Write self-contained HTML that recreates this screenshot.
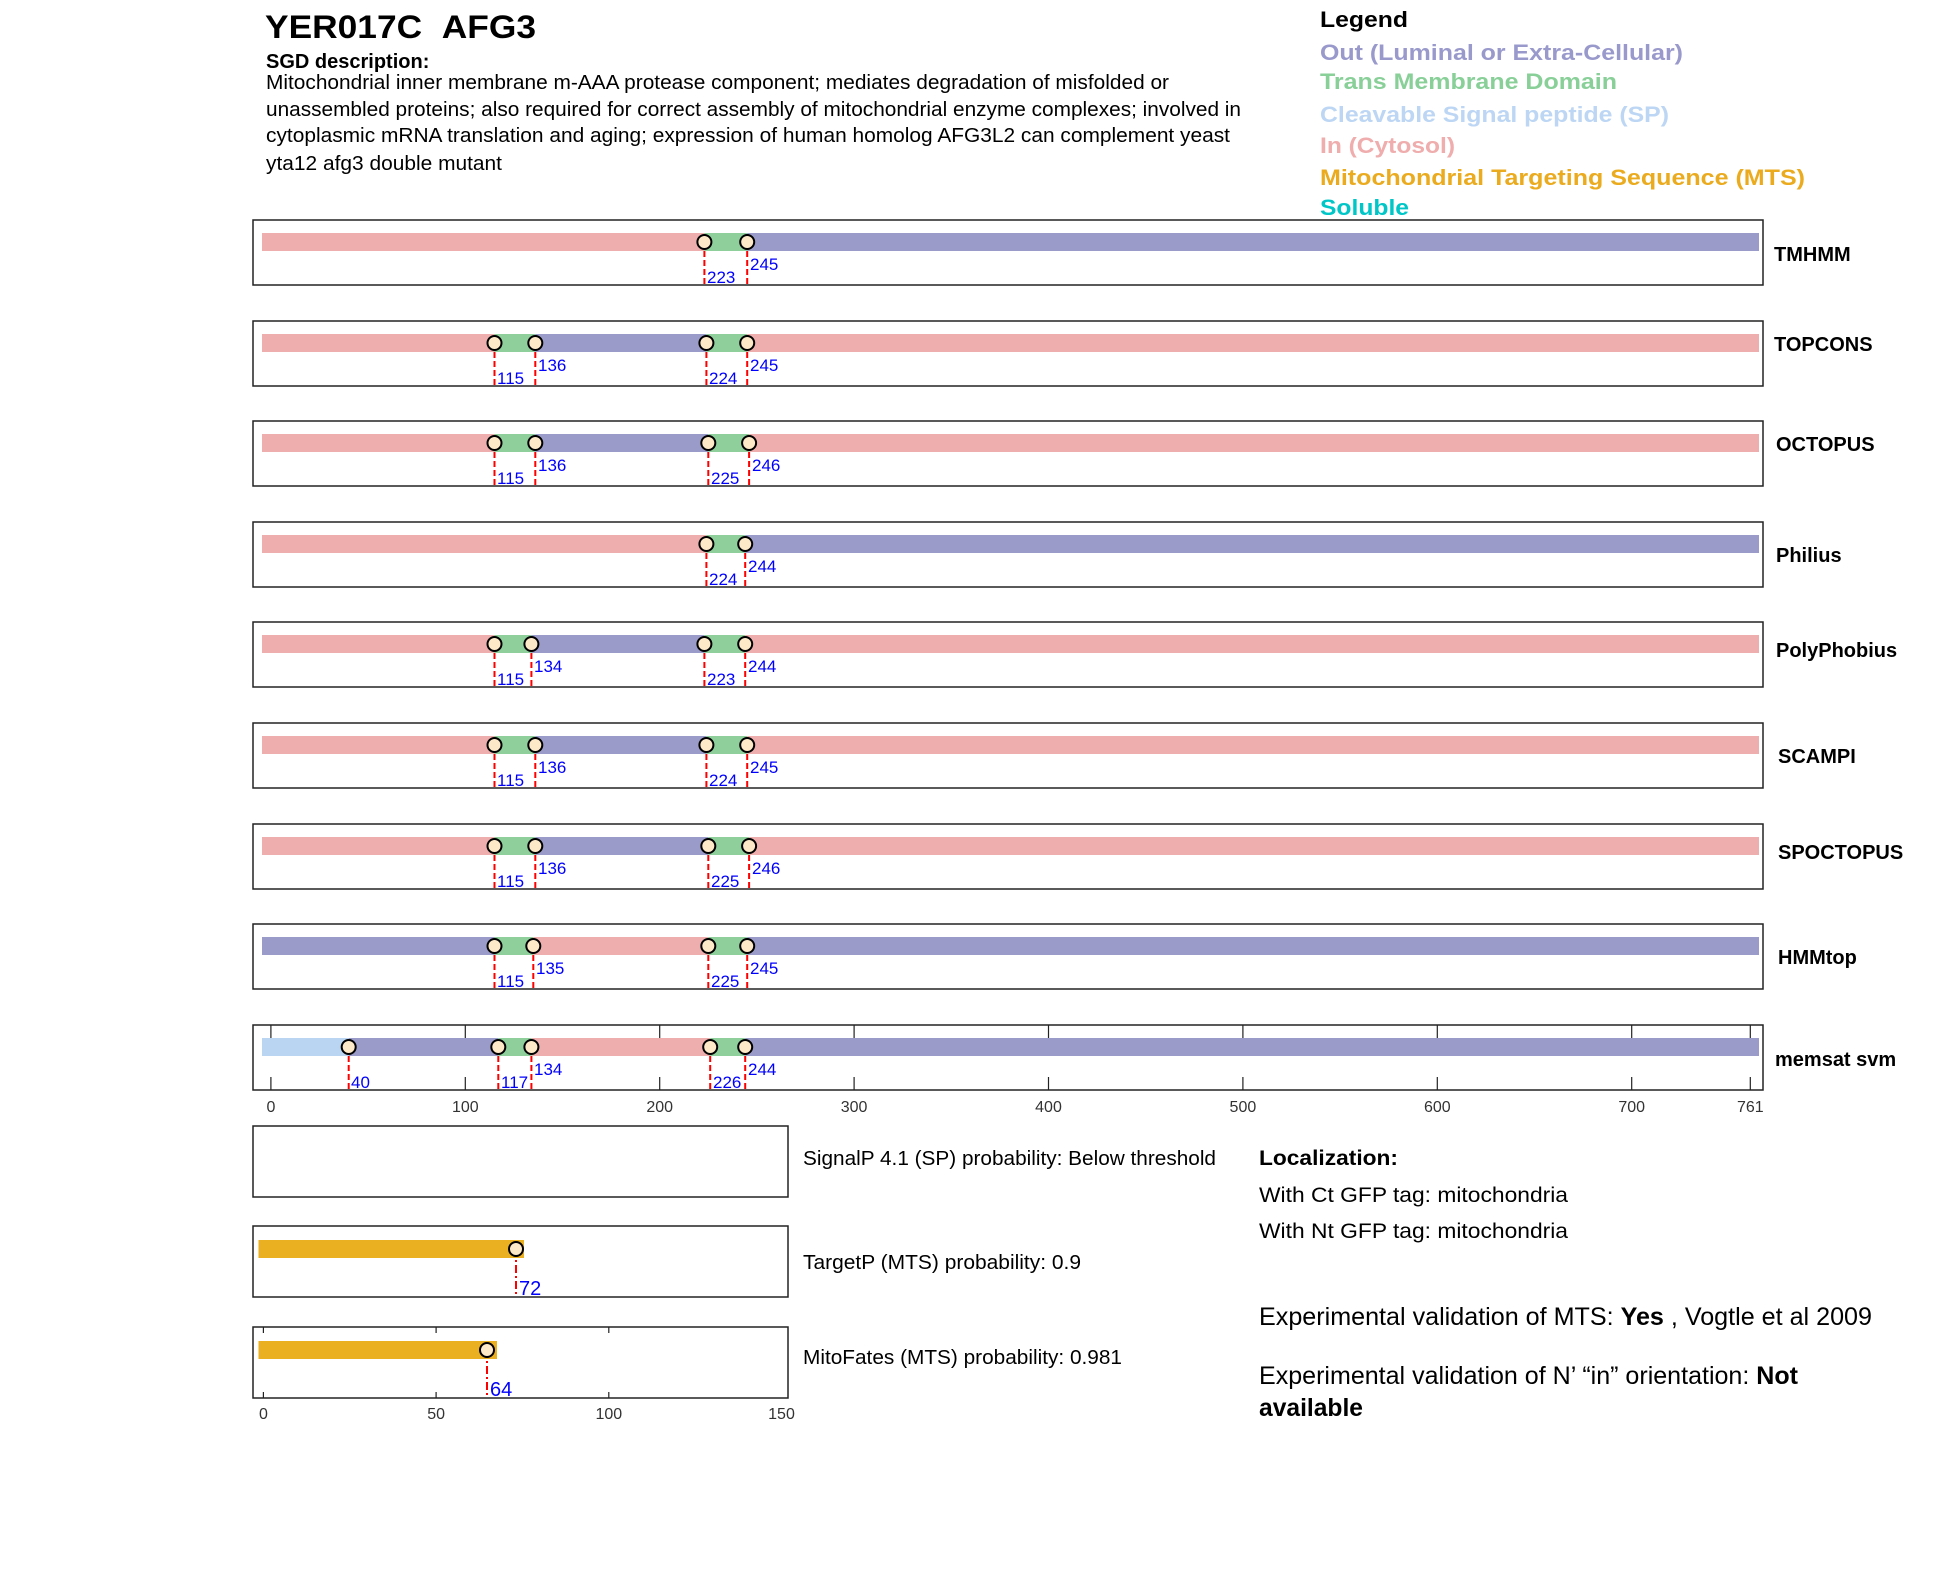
<!DOCTYPE html>
<html><head><meta charset="utf-8"><style>
html,body{margin:0;padding:0;background:#fff;}
svg{display:block;font-family:"Liberation Sans",Arial,sans-serif;}
.lab{fill:#0000ff;font-size:17px;}
.rl{font-size:20px;font-weight:bold;fill:#000;}
.tk{font-size:16px;fill:#333;}
</style></head><body>
<svg width="1950" height="1573" viewBox="0 0 1950 1573" xmlns="http://www.w3.org/2000/svg">
<defs>
<g id="dot"><circle r="7" fill="#fde8c8" stroke="#000" stroke-width="2"/></g>
</defs>
<text x="265" y="38" font-size="32" font-weight="bold" textLength="271" lengthAdjust="spacingAndGlyphs">YER017C&#160;&#160;AFG3</text>
<text x="266" y="68" font-size="20" font-weight="bold">SGD description:</text>
<text x="266" y="89" font-size="20" textLength="903" lengthAdjust="spacingAndGlyphs">Mitochondrial inner membrane m-AAA protease component; mediates degradation of misfolded or</text>
<text x="266" y="116" font-size="20" textLength="975" lengthAdjust="spacingAndGlyphs">unassembled proteins; also required for correct assembly of mitochondrial enzyme complexes; involved in</text>
<text x="266" y="142" font-size="20" textLength="964" lengthAdjust="spacingAndGlyphs">cytoplasmic mRNA translation and aging; expression of human homolog AFG3L2 can complement yeast</text>
<text x="266" y="170" font-size="20" textLength="236" lengthAdjust="spacingAndGlyphs">yta12 afg3 double mutant</text>

<g font-size="22" font-weight="bold">
<text x="1320" y="27" fill="#000" textLength="88" lengthAdjust="spacingAndGlyphs">Legend</text>
<text x="1320" y="60" fill="#9999cc" textLength="363" lengthAdjust="spacingAndGlyphs">Out (Luminal or Extra-Cellular)</text>
<text x="1320" y="89" fill="#88cf98" textLength="297" lengthAdjust="spacingAndGlyphs">Trans Membrane Domain</text>
<text x="1320" y="122" fill="#bcd6f4" textLength="349" lengthAdjust="spacingAndGlyphs">Cleavable Signal peptide (SP)</text>
<text x="1320" y="153" fill="#efadad" textLength="135" lengthAdjust="spacingAndGlyphs">In (Cytosol)</text>
<text x="1320" y="185" fill="#ebab1f" textLength="485" lengthAdjust="spacingAndGlyphs">Mitochondrial Targeting Sequence (MTS)</text>
<text x="1320" y="215" fill="#00c6c8" textLength="89" lengthAdjust="spacingAndGlyphs">Soluble</text>
</g>

<!-- TMHMM -->
<g transform="translate(0,220)">
<rect x="253" y="0" width="1510" height="65" fill="#fff" stroke="#222" stroke-width="1.5"/>
<rect x="262" y="13" width="442.4" height="18" fill="#eeaeae"/>
<rect x="704.4" y="13" width="42.8" height="18" fill="#8ecf9c"/>
<rect x="747.2" y="13" width="1011.8" height="18" fill="#9a9bc9"/>
<g stroke="red" stroke-width="2" stroke-dasharray="6,3"><line x1="704.4" y1="22" x2="704.4" y2="65"/><line x1="747.2" y1="22" x2="747.2" y2="65"/></g>
<use href="#dot" x="704.4" y="22"/><use href="#dot" x="747.2" y="22"/>
<text class="lab" x="707" y="63">223</text><text class="lab" x="750" y="50">245</text>
<text class="rl" x="1774" y="41">TMHMM</text>
</g>

<!-- TOPCONS -->
<g transform="translate(0,321)">
<rect x="253" y="0" width="1510" height="65" fill="#fff" stroke="#222" stroke-width="1.5"/>
<rect x="262" y="13" width="232.5" height="18" fill="#eeaeae"/>
<rect x="494.5" y="13" width="40.8" height="18" fill="#8ecf9c"/>
<rect x="535.3" y="13" width="171.1" height="18" fill="#9a9bc9"/>
<rect x="706.4" y="13" width="40.8" height="18" fill="#8ecf9c"/>
<rect x="747.2" y="13" width="1011.8" height="18" fill="#eeaeae"/>
<g stroke="red" stroke-width="2" stroke-dasharray="6,3"><line x1="494.5" y1="22" x2="494.5" y2="65"/><line x1="535.3" y1="22" x2="535.3" y2="65"/><line x1="706.4" y1="22" x2="706.4" y2="65"/><line x1="747.2" y1="22" x2="747.2" y2="65"/></g>
<use href="#dot" x="494.5" y="22"/><use href="#dot" x="535.3" y="22"/><use href="#dot" x="706.4" y="22"/><use href="#dot" x="747.2" y="22"/>
<text class="lab" x="497" y="63">115</text><text class="lab" x="538" y="50">136</text><text class="lab" x="709" y="63">224</text><text class="lab" x="750" y="50">245</text>
<text class="rl" x="1774" y="30">TOPCONS</text>
</g>

<!-- OCTOPUS -->
<g transform="translate(0,421)">
<rect x="253" y="0" width="1510" height="65" fill="#fff" stroke="#222" stroke-width="1.5"/>
<rect x="262" y="13" width="232.5" height="18" fill="#eeaeae"/>
<rect x="494.5" y="13" width="40.8" height="18" fill="#8ecf9c"/>
<rect x="535.3" y="13" width="173" height="18" fill="#9a9bc9"/>
<rect x="708.3" y="13" width="40.8" height="18" fill="#8ecf9c"/>
<rect x="749.1" y="13" width="1009.9" height="18" fill="#eeaeae"/>
<g stroke="red" stroke-width="2" stroke-dasharray="6,3"><line x1="494.5" y1="22" x2="494.5" y2="65"/><line x1="535.3" y1="22" x2="535.3" y2="65"/><line x1="708.3" y1="22" x2="708.3" y2="65"/><line x1="749.1" y1="22" x2="749.1" y2="65"/></g>
<use href="#dot" x="494.5" y="22"/><use href="#dot" x="535.3" y="22"/><use href="#dot" x="708.3" y="22"/><use href="#dot" x="749.1" y="22"/>
<text class="lab" x="497" y="63">115</text><text class="lab" x="538" y="50">136</text><text class="lab" x="711" y="63">225</text><text class="lab" x="752" y="50">246</text>
<text class="rl" x="1776" y="30">OCTOPUS</text>
</g>

<!-- Philius -->
<g transform="translate(0,522)">
<rect x="253" y="0" width="1510" height="65" fill="#fff" stroke="#222" stroke-width="1.5"/>
<rect x="262" y="13" width="444.4" height="18" fill="#eeaeae"/>
<rect x="706.4" y="13" width="38.8" height="18" fill="#8ecf9c"/>
<rect x="745.2" y="13" width="1013.8" height="18" fill="#9a9bc9"/>
<g stroke="red" stroke-width="2" stroke-dasharray="6,3"><line x1="706.4" y1="22" x2="706.4" y2="65"/><line x1="745.2" y1="22" x2="745.2" y2="65"/></g>
<use href="#dot" x="706.4" y="22"/><use href="#dot" x="745.2" y="22"/>
<text class="lab" x="709" y="63">224</text><text class="lab" x="748" y="50">244</text>
<text class="rl" x="1776" y="40">Philius</text>
</g>

<!-- PolyPhobius -->
<g transform="translate(0,622)">
<rect x="253" y="0" width="1510" height="65" fill="#fff" stroke="#222" stroke-width="1.5"/>
<rect x="262" y="13" width="232.5" height="18" fill="#eeaeae"/>
<rect x="494.5" y="13" width="36.9" height="18" fill="#8ecf9c"/>
<rect x="531.4" y="13" width="173" height="18" fill="#9a9bc9"/>
<rect x="704.4" y="13" width="40.8" height="18" fill="#8ecf9c"/>
<rect x="745.2" y="13" width="1013.8" height="18" fill="#eeaeae"/>
<g stroke="red" stroke-width="2" stroke-dasharray="6,3"><line x1="494.5" y1="22" x2="494.5" y2="65"/><line x1="531.4" y1="22" x2="531.4" y2="65"/><line x1="704.4" y1="22" x2="704.4" y2="65"/><line x1="745.2" y1="22" x2="745.2" y2="65"/></g>
<use href="#dot" x="494.5" y="22"/><use href="#dot" x="531.4" y="22"/><use href="#dot" x="704.4" y="22"/><use href="#dot" x="745.2" y="22"/>
<text class="lab" x="497" y="63">115</text><text class="lab" x="534" y="50">134</text><text class="lab" x="707" y="63">223</text><text class="lab" x="748" y="50">244</text>
<text class="rl" x="1776" y="35">PolyPhobius</text>
</g>

<!-- SCAMPI -->
<g transform="translate(0,723)">
<rect x="253" y="0" width="1510" height="65" fill="#fff" stroke="#222" stroke-width="1.5"/>
<rect x="262" y="13" width="232.5" height="18" fill="#eeaeae"/>
<rect x="494.5" y="13" width="40.8" height="18" fill="#8ecf9c"/>
<rect x="535.3" y="13" width="171.1" height="18" fill="#9a9bc9"/>
<rect x="706.4" y="13" width="40.8" height="18" fill="#8ecf9c"/>
<rect x="747.2" y="13" width="1011.8" height="18" fill="#eeaeae"/>
<g stroke="red" stroke-width="2" stroke-dasharray="6,3"><line x1="494.5" y1="22" x2="494.5" y2="65"/><line x1="535.3" y1="22" x2="535.3" y2="65"/><line x1="706.4" y1="22" x2="706.4" y2="65"/><line x1="747.2" y1="22" x2="747.2" y2="65"/></g>
<use href="#dot" x="494.5" y="22"/><use href="#dot" x="535.3" y="22"/><use href="#dot" x="706.4" y="22"/><use href="#dot" x="747.2" y="22"/>
<text class="lab" x="497" y="63">115</text><text class="lab" x="538" y="50">136</text><text class="lab" x="709" y="63">224</text><text class="lab" x="750" y="50">245</text>
<text class="rl" x="1778" y="40">SCAMPI</text>
</g>

<!-- SPOCTOPUS -->
<g transform="translate(0,824)">
<rect x="253" y="0" width="1510" height="65" fill="#fff" stroke="#222" stroke-width="1.5"/>
<rect x="262" y="13" width="232.5" height="18" fill="#eeaeae"/>
<rect x="494.5" y="13" width="40.8" height="18" fill="#8ecf9c"/>
<rect x="535.3" y="13" width="173" height="18" fill="#9a9bc9"/>
<rect x="708.3" y="13" width="40.8" height="18" fill="#8ecf9c"/>
<rect x="749.1" y="13" width="1009.9" height="18" fill="#eeaeae"/>
<g stroke="red" stroke-width="2" stroke-dasharray="6,3"><line x1="494.5" y1="22" x2="494.5" y2="65"/><line x1="535.3" y1="22" x2="535.3" y2="65"/><line x1="708.3" y1="22" x2="708.3" y2="65"/><line x1="749.1" y1="22" x2="749.1" y2="65"/></g>
<use href="#dot" x="494.5" y="22"/><use href="#dot" x="535.3" y="22"/><use href="#dot" x="708.3" y="22"/><use href="#dot" x="749.1" y="22"/>
<text class="lab" x="497" y="63">115</text><text class="lab" x="538" y="50">136</text><text class="lab" x="711" y="63">225</text><text class="lab" x="752" y="50">246</text>
<text class="rl" x="1778" y="35">SPOCTOPUS</text>
</g>

<!-- HMMtop -->
<g transform="translate(0,924)">
<rect x="253" y="0" width="1510" height="65" fill="#fff" stroke="#222" stroke-width="1.5"/>
<rect x="262" y="13" width="232.5" height="18" fill="#9a9bc9"/>
<rect x="494.5" y="13" width="38.8" height="18" fill="#8ecf9c"/>
<rect x="533.3" y="13" width="175" height="18" fill="#eeaeae"/>
<rect x="708.3" y="13" width="38.9" height="18" fill="#8ecf9c"/>
<rect x="747.2" y="13" width="1011.8" height="18" fill="#9a9bc9"/>
<g stroke="red" stroke-width="2" stroke-dasharray="6,3"><line x1="494.5" y1="22" x2="494.5" y2="65"/><line x1="533.3" y1="22" x2="533.3" y2="65"/><line x1="708.3" y1="22" x2="708.3" y2="65"/><line x1="747.2" y1="22" x2="747.2" y2="65"/></g>
<use href="#dot" x="494.5" y="22"/><use href="#dot" x="533.3" y="22"/><use href="#dot" x="708.3" y="22"/><use href="#dot" x="747.2" y="22"/>
<text class="lab" x="497" y="63">115</text><text class="lab" x="536" y="50">135</text><text class="lab" x="711" y="63">225</text><text class="lab" x="750" y="50">245</text>
<text class="rl" x="1778" y="40">HMMtop</text>
</g>

<!-- memsat svm -->
<g transform="translate(0,1025)">
<rect x="253" y="0" width="1510" height="65" fill="#fff" stroke="#222" stroke-width="1.5"/>
<g stroke="#222" stroke-width="1.2">
<line x1="270.9" y1="0" x2="270.9" y2="13"/><line x1="270.9" y1="52" x2="270.9" y2="65"/>
<line x1="465.3" y1="0" x2="465.3" y2="13"/><line x1="465.3" y1="52" x2="465.3" y2="65"/>
<line x1="659.7" y1="0" x2="659.7" y2="13"/><line x1="659.7" y1="52" x2="659.7" y2="65"/>
<line x1="854.1" y1="0" x2="854.1" y2="13"/><line x1="854.1" y1="52" x2="854.1" y2="65"/>
<line x1="1048.5" y1="0" x2="1048.5" y2="13"/><line x1="1048.5" y1="52" x2="1048.5" y2="65"/>
<line x1="1242.9" y1="0" x2="1242.9" y2="13"/><line x1="1242.9" y1="52" x2="1242.9" y2="65"/>
<line x1="1437.3" y1="0" x2="1437.3" y2="13"/><line x1="1437.3" y1="52" x2="1437.3" y2="65"/>
<line x1="1631.7" y1="0" x2="1631.7" y2="13"/><line x1="1631.7" y1="52" x2="1631.7" y2="65"/>
<line x1="1750.3" y1="0" x2="1750.3" y2="13"/><line x1="1750.3" y1="52" x2="1750.3" y2="65"/>
</g>
<rect x="262" y="13" width="86.7" height="18" fill="#b9d5f2"/>
<rect x="348.7" y="13" width="149.6" height="18" fill="#9a9bc9"/>
<rect x="498.3" y="13" width="33.1" height="18" fill="#8ecf9c"/>
<rect x="531.4" y="13" width="178.8" height="18" fill="#eeaeae"/>
<rect x="710.2" y="13" width="35" height="18" fill="#8ecf9c"/>
<rect x="745.2" y="13" width="1013.8" height="18" fill="#9a9bc9"/>
<g stroke="red" stroke-width="2" stroke-dasharray="6,3"><line x1="348.7" y1="22" x2="348.7" y2="65"/><line x1="498.3" y1="22" x2="498.3" y2="65"/><line x1="531.4" y1="22" x2="531.4" y2="65"/><line x1="710.2" y1="22" x2="710.2" y2="65"/><line x1="745.2" y1="22" x2="745.2" y2="65"/></g>
<use href="#dot" x="348.7" y="22"/><use href="#dot" x="498.3" y="22"/><use href="#dot" x="531.4" y="22"/><use href="#dot" x="710.2" y="22"/><use href="#dot" x="745.2" y="22"/>
<text class="lab" x="351" y="63">40</text><text class="lab" x="501" y="63">117</text><text class="lab" x="534" y="50">134</text><text class="lab" x="713" y="63">226</text><text class="lab" x="748" y="50">244</text>
<text class="rl" x="1775" y="41">memsat svm</text>
</g>
<g class="tk" text-anchor="middle">
<text x="270.9" y="1112">0</text><text x="465.3" y="1112">100</text><text x="659.7" y="1112">200</text><text x="854.1" y="1112">300</text><text x="1048.5" y="1112">400</text><text x="1242.9" y="1112">500</text><text x="1437.3" y="1112">600</text><text x="1631.7" y="1112">700</text><text x="1750.3" y="1112">761</text>
</g>

<!-- SignalP -->
<rect x="253" y="1126" width="535" height="71" fill="#fff" stroke="#222" stroke-width="1.5"/>
<text x="803" y="1165" font-size="20" textLength="413" lengthAdjust="spacingAndGlyphs">SignalP 4.1 (SP) probability: Below threshold</text>

<!-- TargetP -->
<g transform="translate(0,1226)">
<rect x="253" y="0" width="535" height="71" fill="#fff" stroke="#222" stroke-width="1.5"/>
<rect x="258.5" y="14" width="265.5" height="18" fill="#ebaf22"/>
<line x1="516" y1="23" x2="516" y2="71" stroke="red" stroke-width="2" stroke-dasharray="8,3,2,3"/>
<use href="#dot" x="516" y="23"/>
<text x="519" y="69" font-size="20" fill="#0000ff">72</text>
</g>
<text x="803" y="1269" font-size="20" textLength="278" lengthAdjust="spacingAndGlyphs">TargetP (MTS) probability: 0.9</text>

<!-- MitoFates -->
<g transform="translate(0,1327)">
<rect x="253" y="0" width="535" height="71" fill="#fff" stroke="#222" stroke-width="1.5"/>
<g stroke="#222" stroke-width="1.2">
<line x1="263.4" y1="0" x2="263.4" y2="6"/><line x1="263.4" y1="65" x2="263.4" y2="71"/>
<line x1="436.1" y1="0" x2="436.1" y2="6"/><line x1="436.1" y1="65" x2="436.1" y2="71"/>
<line x1="608.8" y1="0" x2="608.8" y2="6"/><line x1="608.8" y1="65" x2="608.8" y2="71"/>
</g>
<rect x="258.5" y="14" width="238.5" height="18" fill="#ebaf22"/>
<line x1="487" y1="23" x2="487" y2="71" stroke="red" stroke-width="2" stroke-dasharray="8,3,2,3"/>
<use href="#dot" x="487" y="23"/>
<text x="490" y="69" font-size="20" fill="#0000ff">64</text>
</g>
<text x="803" y="1364" font-size="20" textLength="319" lengthAdjust="spacingAndGlyphs">MitoFates (MTS) probability: 0.981</text>
<g class="tk" text-anchor="middle">
<text x="263.4" y="1419">0</text><text x="436.1" y="1419">50</text><text x="608.8" y="1419">100</text><text x="781.5" y="1419">150</text>
</g>

<text x="1259" y="1165" font-size="21" font-weight="bold" textLength="139" lengthAdjust="spacingAndGlyphs">Localization:</text>
<text x="1259" y="1202" font-size="21" textLength="309" lengthAdjust="spacingAndGlyphs">With Ct GFP tag: mitochondria</text>
<text x="1259" y="1238" font-size="21" textLength="309" lengthAdjust="spacingAndGlyphs">With Nt GFP tag: mitochondria</text>
<text x="1259" y="1325" font-size="25" textLength="613" lengthAdjust="spacingAndGlyphs">Experimental validation of MTS: <tspan font-weight="bold">Yes</tspan> , Vogtle et al 2009</text>
<text x="1259" y="1384" font-size="25" textLength="539" lengthAdjust="spacingAndGlyphs">Experimental validation of N’ “in” orientation: <tspan font-weight="bold">Not</tspan></text>
<text x="1259" y="1416" font-size="25" font-weight="bold" textLength="104" lengthAdjust="spacingAndGlyphs">available</text>
</svg>
</body></html>
